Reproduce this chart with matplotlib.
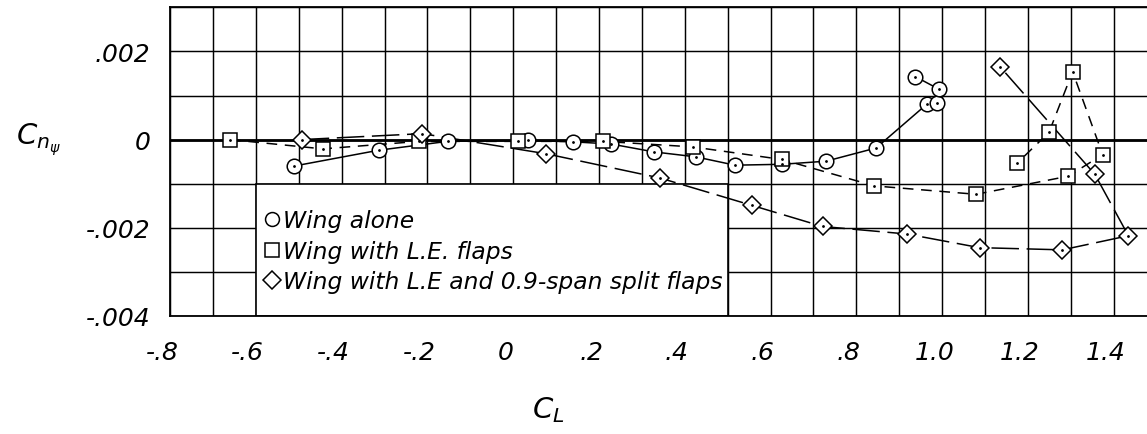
import matplotlib
matplotlib.use("Agg")
import matplotlib.pyplot as plt
from matplotlib.patches import Rectangle
from matplotlib.lines import Line2D
from matplotlib.transforms import ScaledTranslation
import numpy as np

# ---------------- data ----------------
cl_wing = [-0.511, -0.313, -0.153, 0.034, 0.139, 0.228, 0.329, 0.425, 0.517,
           0.626, 0.729, 0.846, 0.965, 0.989, 0.993, 0.937]
cn_wing = [-0.00060, -0.00024, -0.00004, -0.00002, -0.00005, -0.00010, -0.00028,
           -0.00039, -0.00058, -0.00056, -0.00049, -0.00019, 0.00081, 0.00083,
           0.00114, 0.00143]

cl_le = [-0.660, -0.444, -0.219, 0.012, 0.210, 0.418, 0.626, 0.842, 1.079,
         1.294, 1.374, 1.304, 1.249, 1.174]
cn_le = [0.0, -0.00021, -0.00004, -0.00004, -0.00004, -0.000165, -0.00045,
         -0.00105, -0.00124, -0.00083, -0.00034, 0.00154, 0.000165, -0.00054]

cl_split = [-0.493, -0.212, 0.076, 0.342, 0.556, 0.721, 0.917, 1.087, 1.280,
            1.434, 1.356, 1.135]
cn_split = [0.0, 0.000135, -0.00032, -0.00087, -0.00149, -0.00197, -0.00214,
            -0.00245, -0.0025, -0.00218, -0.00079, 0.00165]

x_ticks = [-0.8, -0.6, -0.4, -0.2, 0.0, 0.2, 0.4, 0.6, 0.8, 1.0, 1.2, 1.4]
x_tick_labels = ["-.8", "-.6", "-.4", "-.2", "0", ".2", ".4", ".6", ".8",
                 "1.0", "1.2", "1.4"]
y_ticks = [0.002, 0.0, -0.002, -0.004]
y_tick_labels = [".002", "0", "-.002", "-.004"]
legend_labels = ["Wing alone", "Wing with L.E. flaps",
                 "Wing with L.E and 0.9-span split flaps"]

# ---------------- figure ----------------
W, H = 1147, 435
fig = plt.figure(figsize=(W / 100, H / 100), dpi=100)
ax = fig.add_axes([170 / W, 118 / H, (W - 170) / W, 308.7 / H])
ax.set_xlim(-0.8, -0.8 + (W - 170) / 429.0)
ax.set_ylim(-0.004, 0.003)

ax.set_xticks(x_ticks)
ax.set_xticklabels(x_tick_labels)
ax.set_xticks(np.arange(-0.8, 1.45, 0.1), minor=True)
ax.set_yticks(y_ticks)
ax.set_yticklabels(y_tick_labels)
ax.set_yticks(np.arange(-0.004, 0.0031, 0.001), minor=True)

for lab in ax.get_xticklabels() + ax.get_yticklabels():
    lab.set_fontfamily("DejaVu Sans")
    lab.set_fontstyle("italic")
    lab.set_fontsize(18)
ax.tick_params(axis="both", which="both", length=0)
ax.tick_params(axis="x", pad=17)
ax.tick_params(axis="y", pad=14)
off = ScaledTranslation(-8 / 100, 0, fig.dpi_scale_trans)
for lab in ax.get_xticklabels():
    lab.set_transform(lab.get_transform() + off)

ax.set_axisbelow(True)
ax.grid(True, which="both", color="black", linewidth=1.05)
ax.axhline(0, color="black", linewidth=2.0, zorder=1)
for s in ["left", "bottom", "top"]:
    ax.spines[s].set_linewidth(1.3)
ax.spines["right"].set_visible(False)

# legend box (white, covering the grid)
ax.add_patch(Rectangle((-0.6, -0.004), 1.1, 0.003, facecolor="white",
                       edgecolor="black", linewidth=1.2, zorder=2))

# curves
ax.plot(cl_wing, cn_wing, color="black", lw=1.1, zorder=3)
ax.plot(cl_le, cn_le, color="black", lw=1.1, dashes=(7, 5), zorder=3)
ax.plot(cl_split, cn_split, color="black", lw=1.1, dashes=(18, 5), zorder=3)

# markers
mk = dict(linestyle="none", markerfacecolor="white", markeredgecolor="black",
          markeredgewidth=1.1, zorder=4)
ax.plot(cl_wing, cn_wing, marker="o", markersize=10.5, **mk)
ax.plot(cl_le, cn_le, marker="s", markersize=9.5, **mk)
ax.plot(cl_split, cn_split, marker="D", markersize=9, **mk)
for xs, ys in [(cl_wing, cn_wing), (cl_le, cn_le), (cl_split, cn_split)]:
    ax.plot(xs, ys, linestyle="none", marker=".", markersize=2,
            color="black", zorder=5)

# legend entries
markers = ["o", "s", "D"]
sizes = [10, 9.5, 9]
rows_y = [228, 259, 289]
for m, s, yb, lab in zip(markers, sizes, rows_y, legend_labels):
    fig.add_artist(Line2D([272 / W], [1 - (yb - 8) / H], marker=m, markersize=s,
                          markerfacecolor="white", markeredgecolor="black",
                          markeredgewidth=1.1, linestyle="none",
                          transform=fig.transFigure, zorder=6))
    fig.text(283 / W, 1 - yb / H, lab, fontfamily="DejaVu Sans",
             fontstyle="italic", fontsize=16.8, ha="left", va="baseline",
             zorder=6)

# axis labels
fig.text(38 / W, 1 - 140 / H, r"$C_{n_{\psi}}$", fontsize=21,
         ha="center", va="center")
fig.text(548 / W, 1 - 410 / H, r"$C_L$", fontsize=21,
         ha="center", va="center")

fig.savefig("out.png", dpi=100)
